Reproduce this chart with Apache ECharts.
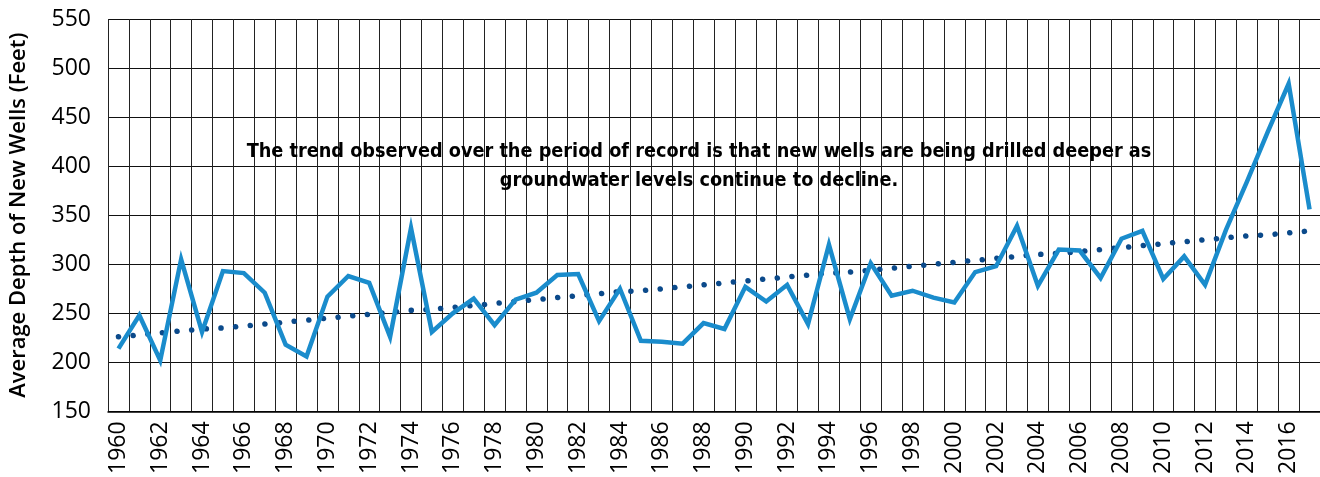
<!DOCTYPE html>
<html>
<head>
<meta charset="utf-8">
<script src="https://cdn.jsdelivr.net/npm/echarts@6/dist/echarts.min.js"></script>
<style>
  html, body { margin: 0; padding: 0; background: #fff; }
  #chart { width: 1320px; height: 477px; }
</style>
</head>
<body>
<div id="chart"></div>
<script>
// years 1960 - 2017
const years = [];
for (let y = 1960; y <= 2017; y++) years.push(String(y));

// average depth of new wells (feet)
const depth = [
  214, 248, 202, 305, 231, 293, 291, 271, 218, 206,
  267, 288, 281, 226, 337, 231, 250, 265, 238, 264,
  271, 289, 290, 242, 275, 222, 221, 219, 240, 234,
  277, 262, 279, 239, 320, 244, 301, 268, 273, 266,
  261, 292, 298, 339, 278, 315, 314, 286, 326, 334,
  285, 308, 279, 335, 384, 435, 484, 356
];

// linear trend (dotted line)
const trend = [
  226, 228, 230, 232, 234, 235, 237, 239, 241, 243,
  245, 247, 249, 251, 253, 254, 256, 258, 260, 262,
  264, 266, 268, 270, 272, 273, 275, 277, 279, 281,
  283, 285, 287, 289, 291, 292, 294, 296, 298, 300,
  302, 304, 306, 308, 310, 311, 313, 315, 317, 319,
  321, 323, 325, 327, 329, 330, 332, 334
];

const note = 'The trend observed over the period of record is that new wells are being drilled deeper as\ngroundwater levels continue to decline.';

const chart = echarts.init(document.getElementById('chart'));

const option = {
  animation: false,
  grid: { left: 108, right: 0, top: 19, bottom: 65 },
  xAxis: {
    type: 'category',
    data: years,
    boundaryGap: true,
    axisLine: { lineStyle: { color: '#000', width: 1.5 } },
    axisTick: { show: false },
    axisLabel: {
      interval: 1,
      rotate: 90,
      margin: 10,
      fontFamily: 'Open Sans',
      fontSize: 23,
      color: '#000'
    },
    splitLine: { show: true, interval: 0, lineStyle: { color: '#222', width: 1 } }
  },
  yAxis: {
    type: 'value',
    min: 150,
    max: 550,
    interval: 50,
    name: 'Average Depth of New Wells (Feet)',
    nameLocation: 'middle',
    nameRotate: 90,
    nameGap: 78,
    nameTextStyle: { fontFamily: 'Open Sans', fontWeight: 600, fontSize: 22, color: '#000' },
    axisLine: { show: false },
    axisTick: { show: false },
    axisLabel: { fontFamily: 'Open Sans', fontSize: 23, color: '#000', margin: 17 },
    splitLine: { lineStyle: { color: '#111', width: 1.2 } }
  },
  series: [
    {
      name: 'Trend',
      type: 'line',
      data: trend,
      symbol: 'none',
      lineStyle: { color: '#0b4a8b', width: 5.5, type: [0.1, 14.6], cap: 'round' },
      z: 2
    },
    {
      name: 'Depth',
      type: 'line',
      data: depth,
      symbol: 'none',
      lineStyle: { color: '#1a8ccc', width: 4.5, join: 'miter' },
      z: 3
    }
  ],
  graphic: [
    {
      type: 'text',
      x: 699,
      y: 137,
      z: 10,
      style: {
        text: note,
        align: 'center',
        verticalAlign: 'top',
        fontFamily: 'DejaVu Sans Condensed',
        fontWeight: 'bold',
        fontSize: 19.7,
        lineHeight: 29,
        fill: '#000'
      }
    }
  ]
};

chart.setOption(option);
</script>
</body>
</html>
